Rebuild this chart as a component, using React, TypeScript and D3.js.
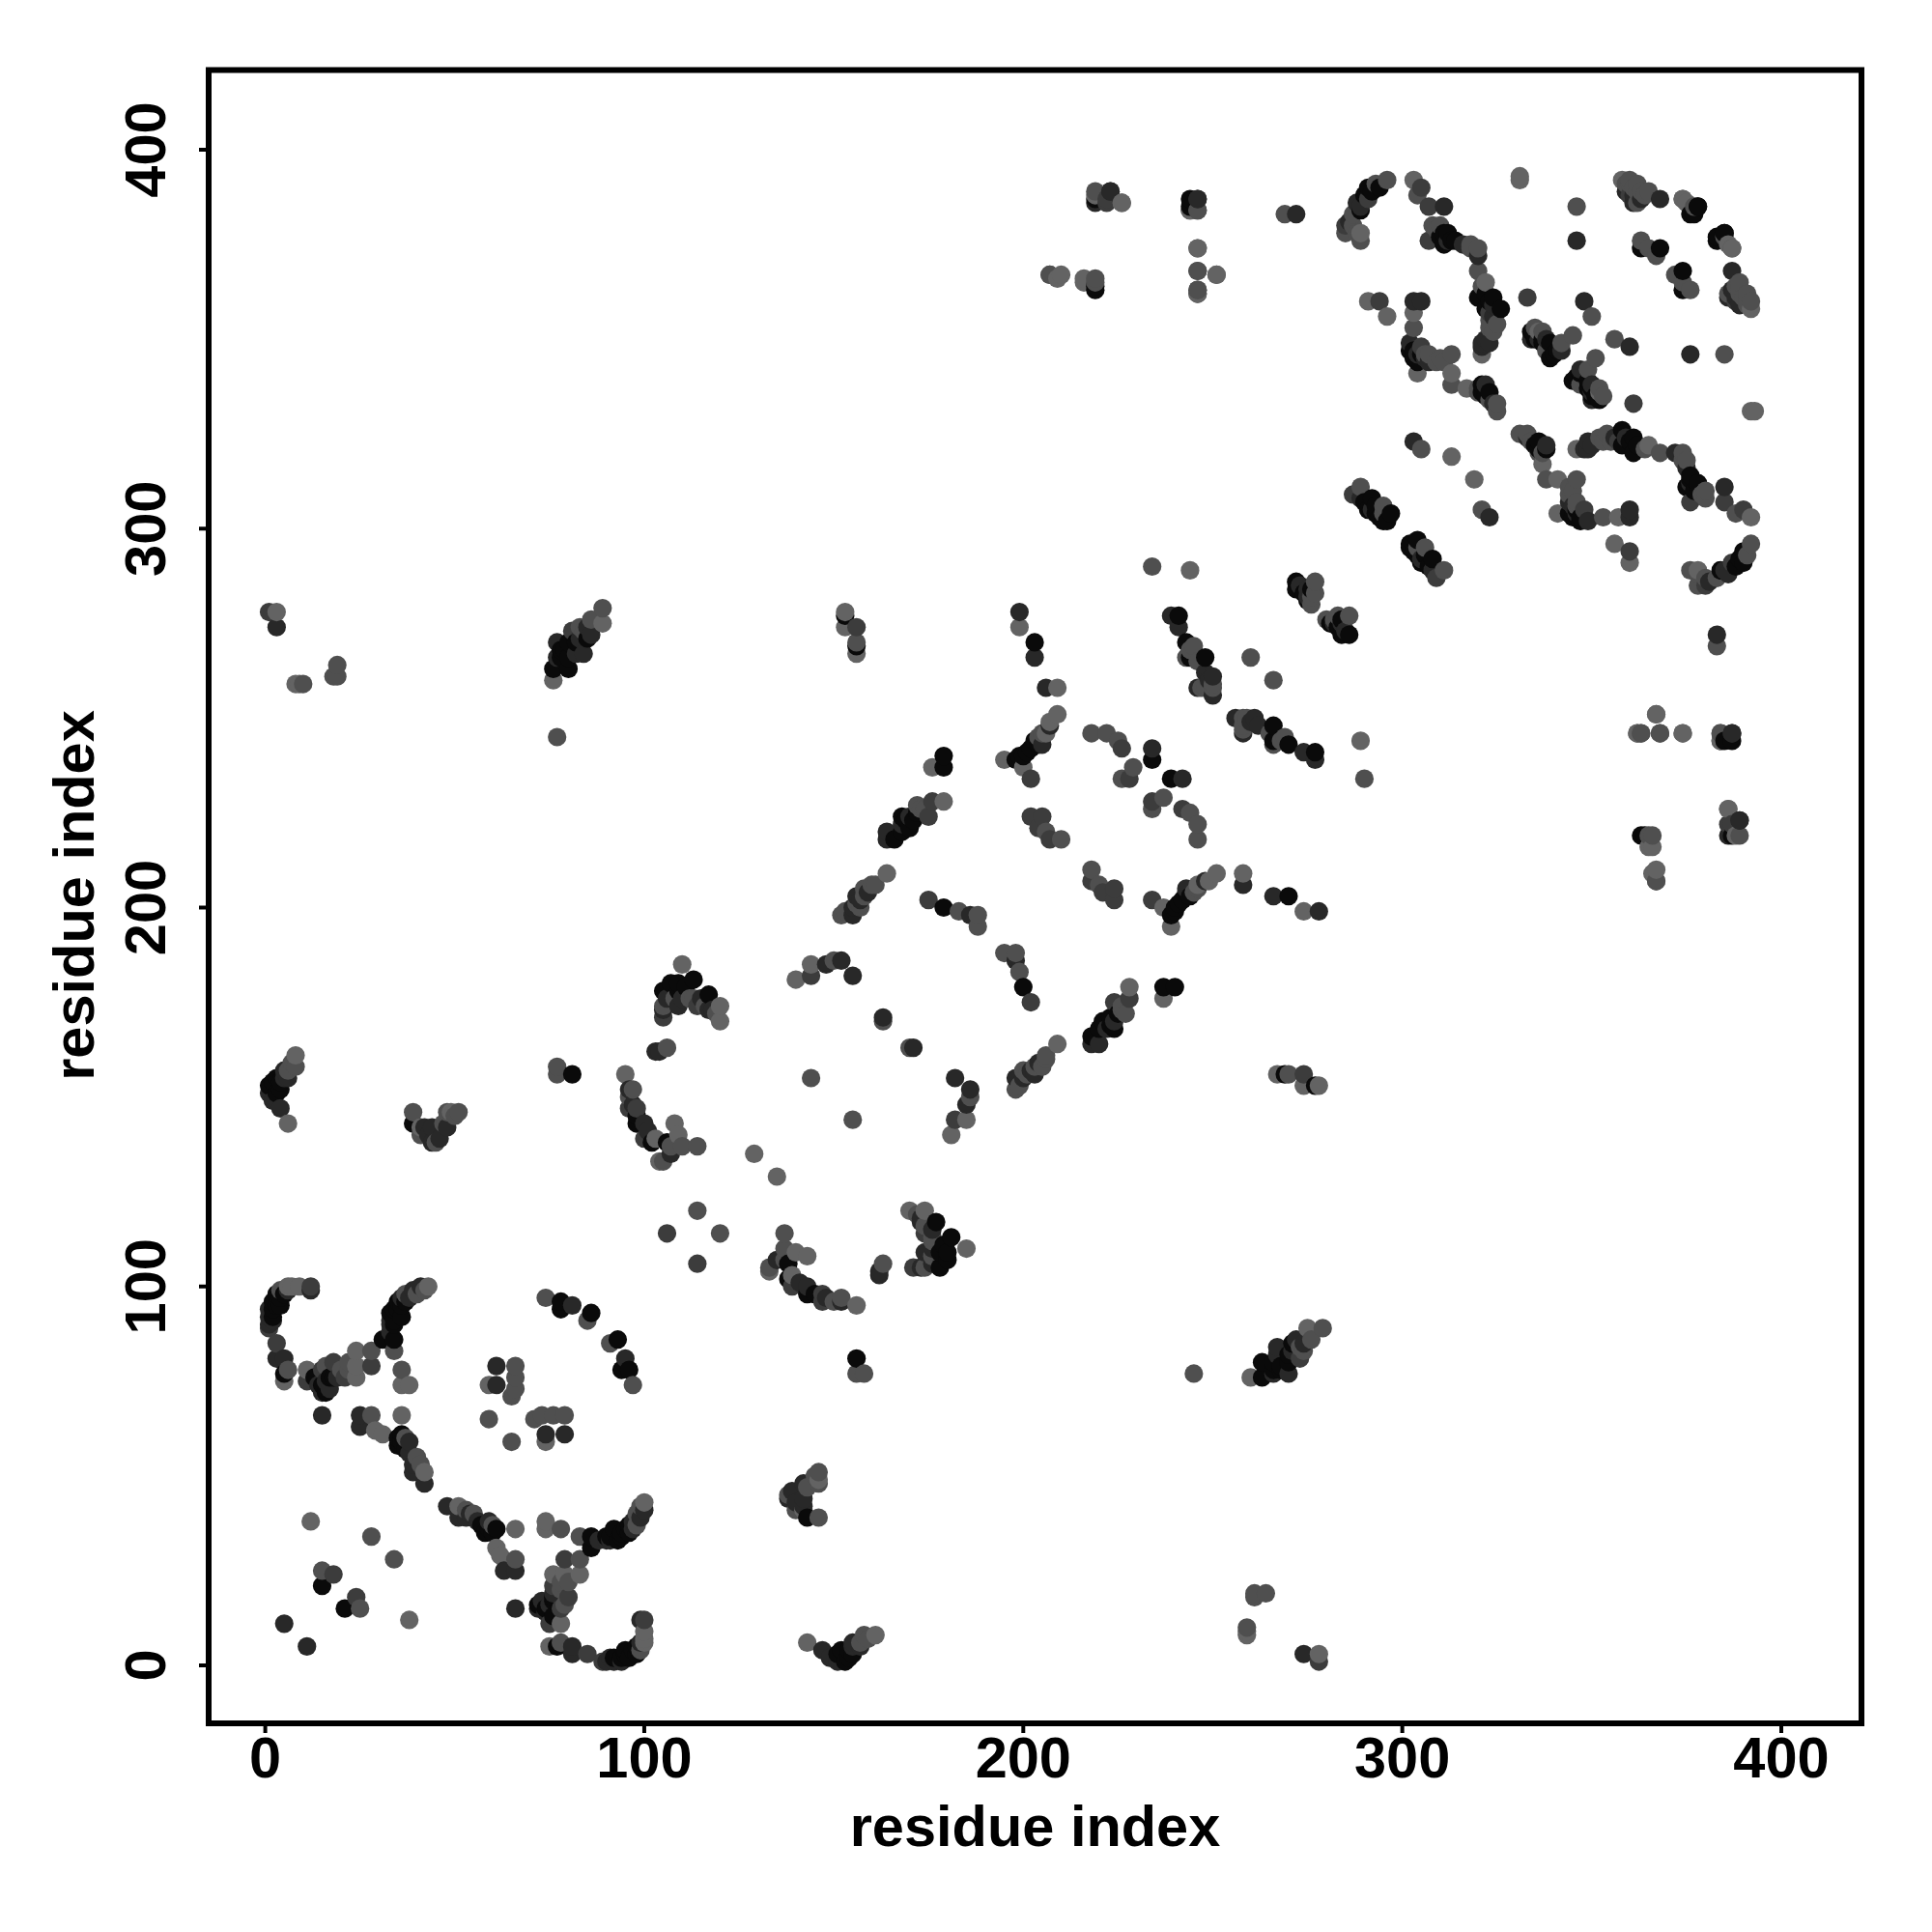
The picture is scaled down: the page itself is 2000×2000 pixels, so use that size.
import React from "react";
import * as d3 from "d3";

// Contact pairs (i, j) with i < j, grouped by tone. The map is symmetric.
const blackPairs = [[5,98],[4,97],[2,96],[2,94],[5,77],[13,76],[18,76],[31,86],[34,86],[35,96],[34,94],[33,93],[35,60],[36,61],[35,58],[78,96],[78,94],[86,93],[15,21],[3,155],[1,153],[4,152],[39,143],[81,156],[98,143],[106,138],[105,178],[109,180],[109,178],[113,181],[117,177],[179,240],[179,237],[171,223],[168,224],[168,220],[179,200],[203,244],[202,242],[200,240],[198,239],[234,239],[203,270],[241,277],[243,270],[244,266],[248,266],[272,286],[272,284],[275,281],[292,308],[291,305],[294,303],[297,304],[296,302],[291,390],[294,390],[289,384],[312,378],[313,376],[311,375],[321,338],[323,336],[320,361],[324,361],[326,358],[302,347],[304,344],[334,352],[335,350],[339,349],[341,347],[339,345],[363,374],[368,374],[378,385],[377,383],[385,378],[383,376],[219,363],[244,385],[76,263],[80,263],[80,266],[80,270],[85,271],[153,277],[156,269],[387,244],[387,219],[364,219]];
const darkPairs = [[12,99],[1,92],[1,94],[3,81],[5,81],[15,72],[16,75],[25,66],[25,63],[38,59],[40,54],[39,51],[42,48],[15,66],[81,95],[33,91],[36,97],[41,100],[61,79],[61,74],[5,11],[4,147],[6,155],[5,157],[1,151],[42,142],[44,142],[44,138],[48,142],[96,152],[100,143],[107,135],[105,173],[109,174],[118,173],[117,173],[104,162],[103,162],[148,185],[152,186],[155,182],[163,171],[164,220],[164,218],[156,203],[155,198],[186,198],[199,278],[203,266],[206,258],[239,277],[241,274],[250,261],[250,256],[234,242],[275,284],[289,308],[272,383],[289,385],[311,385],[320,372],[303,360],[305,360],[323,349],[321,348],[307,344],[346,376],[348,360],[361,386],[368,387],[219,386],[223,389],[246,387],[3,274],[77,270],[77,266],[84,267],[85,274],[389,223],[387,246],[303,323],[33,90]];
const midPairs = [[12,100],[1,89],[3,85],[11,75],[15,78],[18,80],[21,76],[28,79],[18,24],[96,147],[98,147],[100,139],[114,174],[105,171],[144,182],[106,114],[176,228],[175,224],[175,202],[202,224],[205,224],[204,221],[207,218],[226,242],[228,234],[287,309],[285,380],[291,387],[305,390],[307,385],[307,376],[294,360],[323,357],[305,348],[333,361],[360,388],[222,387],[81,273],[1,278],[156,274],[386,222],[202,234]];
const greyPairs = [[6,78],[28,83],[34,83],[36,78],[28,66],[40,55],[74,97],[85,91],[66,79],[66,76],[65,71],[66,73],[59,65],[28,34],[15,25],[8,158],[39,146],[45,138],[48,146],[51,146],[77,158],[77,156],[96,150],[110,137],[114,137],[105,133],[107,137],[105,174],[113,176],[114,120],[144,155],[106,163],[150,186],[163,170],[172,227],[161,206],[158,205],[157,200],[152,198],[183,199],[188,198],[188,195],[218,246],[222,246],[225,244],[229,237],[226,234],[206,220],[210,218],[234,290],[260,266],[247,258],[245,269],[243,266],[250,258],[277,286],[276,282],[289,311],[295,306],[269,383],[287,383],[285,378],[289,376],[296,392],[304,388],[310,380],[318,375],[320,374],[320,368],[321,364],[325,354],[323,353],[303,353],[307,346],[310,345],[313,346],[313,338],[320,336],[325,333],[305,321],[338,347],[346,385],[350,356],[363,376],[365,374],[367,372],[360,391],[362,389],[364,388],[362,386],[377,385],[387,374],[207,367],[219,365],[246,384],[246,368],[246,363],[246,362],[10,259],[18,261],[19,264],[19,261],[77,245],[83,274],[89,279],[156,270],[363,246],[368,246],[384,246],[384,244],[389,219],[366,219],[367,207]];
const lightPairs = [[6,100],[7,100],[9,100],[5,75],[11,78],[24,76],[24,79],[24,83],[36,74],[38,74],[29,62],[31,61],[36,66],[42,51],[43,100],[59,74],[12,38],[8,161],[6,143],[41,142],[49,146],[95,156],[103,139],[104,133],[108,143],[109,140],[110,185],[120,174],[120,170],[140,181],[144,185],[129,135],[176,237],[179,228],[164,209],[195,239],[200,237],[209,251],[207,249],[206,246],[199,274],[209,258],[244,289],[289,378],[303,392],[322,365],[291,360],[296,356],[303,357],[304,341],[313,341],[317,337],[313,319],[321,346],[331,392],[331,393],[336,352],[358,392],[374,387],[386,375],[209,366],[216,365],[219,388],[226,386],[244,384],[246,374],[251,367],[3,278],[9,259],[8,259],[76,260],[89,275],[153,278],[153,274],[156,267],[367,251],[362,246],[374,246],[386,226],[366,216],[367,210]];
// Further contacts that sit inside the dense clusters.
const blackDense = [[3,98],[3,95],[2,92],[4,95],[35,94],[36,95],[34,91],[37,96],[78,268],[79,268],[82,270],[78,266],[169,223],[170,221],[172,225],[166,218],[201,241],[204,243],[199,240],[293,306],[290,307],[293,304],[295,302],[303,347],[303,345],[305,346],[335,351],[337,350],[340,346],[337,349],[310,377],[311,378],[314,376],[322,362],[323,360],[322,358],[321,336],[322,335],[290,388],[292,389],[107,180],[111,179],[2,154],[4,154],[3,151],[36,59],[37,57],[15,74],[16,72],[17,76],[34,90],[36,92],[274,283],[276,284],[98,145],[102,138]];
const darkDense = [[6,99],[1,90],[2,91],[38,97],[39,99],[82,267],[83,271],[86,272],[170,224],[168,222],[155,200],[157,202],[159,204],[205,243],[207,248],[292,305],[302,349],[304,346],[306,345],[336,350],[334,350],[338,350],[342,347],[312,376],[316,375],[324,359],[324,356],[322,350],[321,349],[322,338],[324,333],[288,386],[286,381],[359,389],[361,388],[363,387],[106,176],[110,176],[115,176],[5,155],[2,149],[43,140],[46,139],[38,56],[39,53],[17,73],[19,76],[14,74],[246,258],[248,262],[249,260],[273,285],[275,282],[97,148],[101,141],[33,88]];
const greyDense = [[4,99],[37,98],[40,98],[84,273],[86,276],[173,226],[174,226],[156,201],[158,203],[160,206],[153,199],[204,245],[205,246],[295,304],[306,346],[309,344],[311,344],[337,352],[335,353],[342,349],[345,351],[308,380],[309,379],[318,374],[324,352],[323,355],[320,337],[323,334],[325,331],[287,380],[288,378],[293,391],[359,391],[361,390],[363,389],[360,392],[362,391],[365,389],[108,176],[112,176],[116,174],[119,172],[6,157],[7,159],[47,143],[50,145],[41,140],[41,53],[37,60],[20,78],[22,78],[16,79],[22,80],[246,265],[244,268],[248,258],[250,259],[277,283],[276,280],[97,152],[42,99]];
const toneGroups = [
  { pairs: [...blackPairs, ...blackDense], fill: "#0a0a0a" },
  { pairs: [...darkPairs, ...darkDense], fill: "#282828" },
  { pairs: midPairs, fill: "#3c3c3c" },
  { pairs: [...greyPairs, ...greyDense], fill: "#4f4f4f" },
  { pairs: lightPairs, fill: "#636363" },
];
const tickValues = [0, 100, 200, 300, 400];
const axisTitle = "residue index";

const x = d3.scaleLinear().domain([0, 400]).range([274.6, 1844]);
const y = d3.scaleLinear().domain([0, 400]).range([1724, 155]);
const FONT = "'Liberation Sans', Arial, sans-serif";

export default function App() {
  const points = toneGroups
    .flatMap(g => g.pairs.flatMap(([i, j]) => [
      { a: i, b: j, fill: g.fill },
      { a: j, b: i, fill: g.fill },
    ]))
    .sort((p, q) => d3.ascending(p.a, q.a) || d3.ascending(p.b, q.b));
  const left = 216, right = 1927, top = 72.5, bottom = 1784;
  return (
    <svg width={2000} height={2000} style={{ position: "absolute", left: 0, top: 0, background: "#fff" }}>
      <g>
        {points.map((p, k) => (
          <circle key={k} cx={x(p.a)} cy={y(p.b)} r={9.6} fill={p.fill} />
        ))}
      </g>
      <rect x={left} y={top} width={right - left} height={bottom - top} fill="none" stroke="#000" strokeWidth={6} />
      {tickValues.map(t => (
        <g key={t}>
          <line x1={x(t)} x2={x(t)} y1={bottom} y2={bottom + 10} stroke="#000" strokeWidth={4} />
          <text x={x(t)} y={1840} textAnchor="middle" fontFamily={FONT} fontWeight="bold" fontSize={59.5}>{t}</text>
          <line x1={left} x2={left - 10} y1={y(t)} y2={y(t)} stroke="#000" strokeWidth={4} />
          <text transform={`translate(171,${y(t)}) rotate(-90)`} textAnchor="middle" fontFamily={FONT} fontWeight="bold" fontSize={59.5}>{t}</text>
        </g>
      ))}
      <text x={1071.5} y={1911} textAnchor="middle" fontFamily={FONT} fontWeight="bold" fontSize={59.5}>{axisTitle}</text>
      <text transform={`translate(97,927) rotate(-90)`} textAnchor="middle" fontFamily={FONT} fontWeight="bold" fontSize={59.5}>{axisTitle}</text>
    </svg>
  );
}
